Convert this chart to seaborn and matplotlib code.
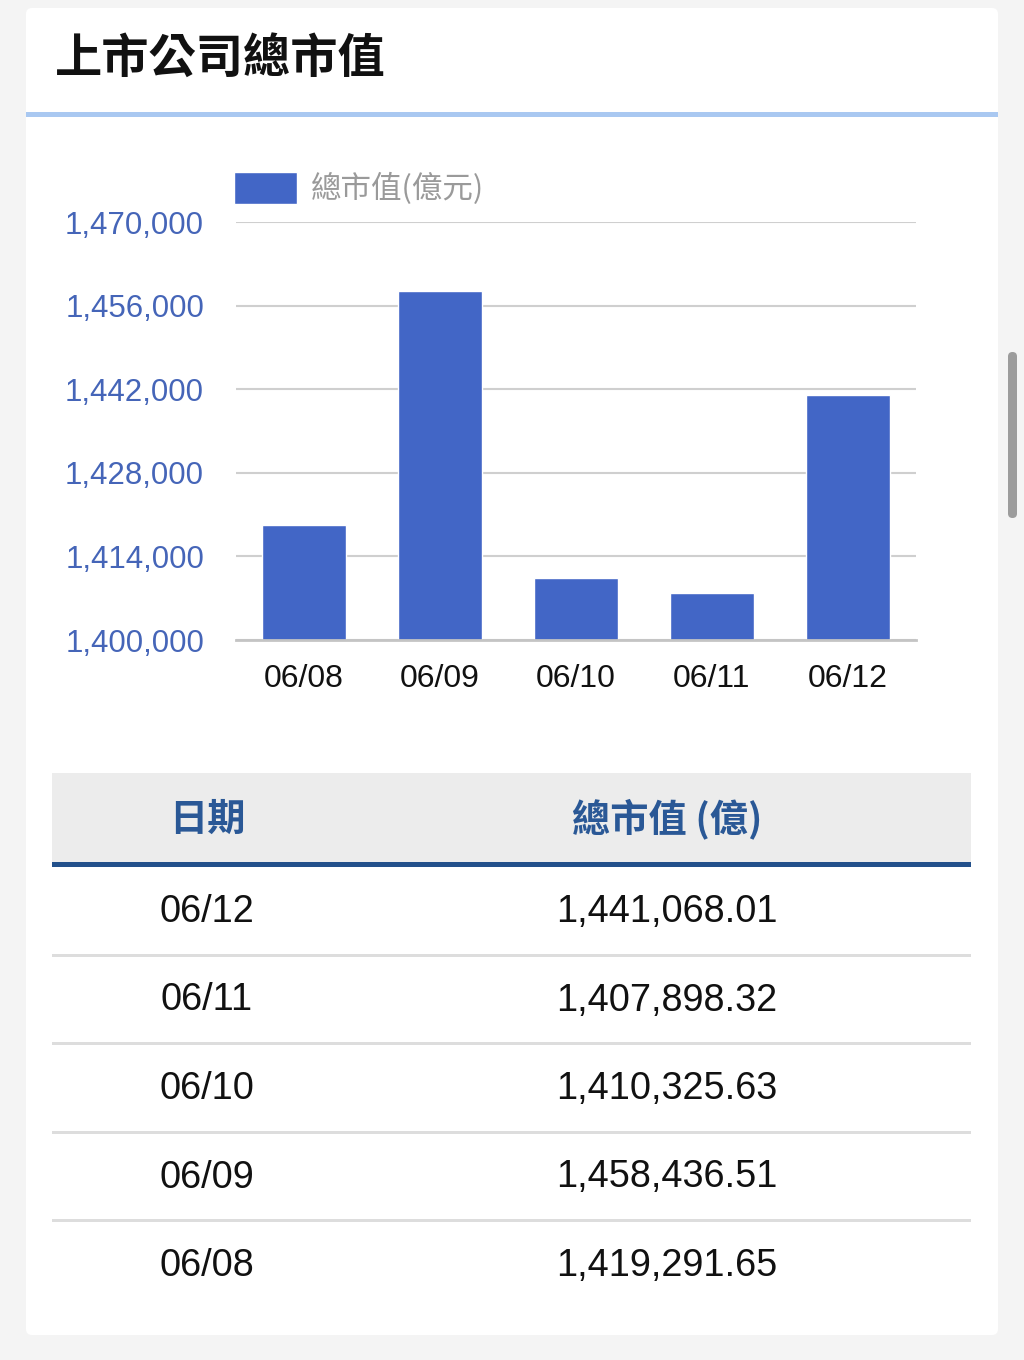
import matplotlib
matplotlib.use("Agg")
import matplotlib.pyplot as plt
from matplotlib import font_manager as fm
from matplotlib.patches import Rectangle, FancyBboxPatch
from matplotlib.ticker import FuncFormatter
import seaborn as sns
import pandas as pd

# ---------------- data ----------------
title = "上市公司總市值"
series_label = "總市值(億元)"
dates = ["06/08", "06/09", "06/10", "06/11", "06/12"]
values = [1419291.65, 1458436.51, 1410325.63, 1407898.32, 1441068.01]
y_ticks = [1400000, 1414000, 1428000, 1442000, 1456000, 1470000]
table_headers = ["日期", "總市值 (億)"]

# ---------------- fonts ----------------
sns.set_theme(style="white")
CJK = "Noto Sans CJK TC"
plt.rcParams["font.family"] = [CJK, "DejaVu Sans"]


def has_font(name):
    try:
        fm.findfont(fm.FontProperties(family=name), fallback_to_default=False)
        return True
    except Exception:
        return False


NARROW = "Liberation Sans Narrow" if has_font("Liberation Sans Narrow") else "Liberation Sans"
SANS = "Liberation Sans"
is_narrow = NARROW != SANS

W, H = 1024, 1360
fig = plt.figure(figsize=(W / 100, H / 100), dpi=100)
fig.patch.set_facecolor("#f4f4f4")

# background / decoration axes in pixel coordinates
bg = fig.add_axes([0, 0, 1, 1])
bg.set_xlim(0, W)
bg.set_ylim(H, 0)
bg.axis("off")
bg.set_zorder(0)

bg.add_patch(FancyBboxPatch((26, 8), 972, 1327, boxstyle="round,pad=0,rounding_size=6",
                            facecolor="white", edgecolor="none"))
bg.add_patch(Rectangle((26, 112), 972, 5, facecolor="#a9c8f1", edgecolor="none"))
bg.text(55, 59, title, fontsize=34, fontweight="bold", color="#111111",
        va="center", ha="left", family=[CJK, "DejaVu Sans"])

# scrollbar
bg.add_patch(FancyBboxPatch((1008, 352), 9, 166, boxstyle="round,pad=0,rounding_size=4.5",
                            facecolor="#9c9c9c", edgecolor="none"))

# ---------------- table ----------------
bg.add_patch(Rectangle((52, 773), 919, 89, facecolor="#ececec", edgecolor="none"))
bg.add_patch(Rectangle((52, 862), 919, 5, facecolor="#22508b", edgecolor="none"))
col_x = [207, 667]
header_color = "#2a5896"
for cx, h in zip(col_x, table_headers):
    bg.text(cx, 819, h, fontsize=27.5, fontweight="bold", color=header_color,
            ha="center", va="center", family=[CJK, "DejaVu Sans"])

row_h = 88.5
first_center = 912
row_fs = 30 if is_narrow else 27.3
rows = list(zip(dates, values))[::-1]
for i, (d, v) in enumerate(rows):
    cy = first_center + i * row_h
    bg.text(col_x[0], cy, d, fontsize=row_fs, color="#111111",
            ha="center", va="center", family=NARROW)
    bg.text(col_x[1], cy, f"{v:,.2f}", fontsize=row_fs, color="#111111",
            ha="center", va="center", family=NARROW)
    if i < len(rows) - 1:
        bg.add_patch(Rectangle((52, cy + row_h / 2 - 2.5), 919, 3,
                               facecolor="#dddddd", edgecolor="none"))

# ---------------- chart ----------------
left, right, top, bottom = 236, 916, 222, 640
ax = fig.add_axes([left / W, (H - bottom) / H, (right - left) / W, (bottom - top) / H])
ax.set_zorder(2)
ax.patch.set_alpha(0)

df = pd.DataFrame({"date": dates, "value": values})
sns.barplot(data=df, x="date", y="value", color="#4266c6", saturation=1, width=0.62,
            ax=ax, label=series_label, zorder=3)

ax.set_ylim(y_ticks[0], y_ticks[-1])
ax.set_yticks(y_ticks)
ax.yaxis.set_major_formatter(FuncFormatter(lambda v, p: f"{int(v):,}"))
ax.grid(axis="y", color="#cfcfcf", linewidth=1.5, zorder=0)
ax.set_axisbelow(True)
for s in ["top", "right", "left"]:
    ax.spines[s].set_visible(False)
ax.spines["bottom"].set_color("#c4c4c4")
ax.spines["bottom"].set_linewidth(2)
ax.spines["bottom"].set_zorder(4)
ax.tick_params(axis="both", length=0)
ax.tick_params(axis="y", pad=23, labelcolor="#4565b8")
ax.tick_params(axis="x", pad=17, labelcolor="#111111")
for lab in ax.get_yticklabels():
    lab.set_fontfamily(SANS)
    lab.set_fontsize(22.5)
for lab in ax.get_xticklabels():
    lab.set_fontfamily(NARROW)
    lab.set_fontsize(26 if is_narrow else 23)
ax.set_xlabel("")
ax.set_ylabel("")

leg = ax.legend(loc="lower left", bbox_to_anchor=(-0.028, 1), frameon=False,
                borderpad=0, borderaxespad=0.55, handlelength=2.06, handleheight=1.25,
                handletextpad=0.45,
                prop=fm.FontProperties(family=[CJK, "DejaVu Sans"], size=22, weight="light"))
for t in leg.get_texts():
    t.set_color("#9a9a9a")

fig.savefig("out.png", dpi=100, facecolor=fig.get_facecolor())
